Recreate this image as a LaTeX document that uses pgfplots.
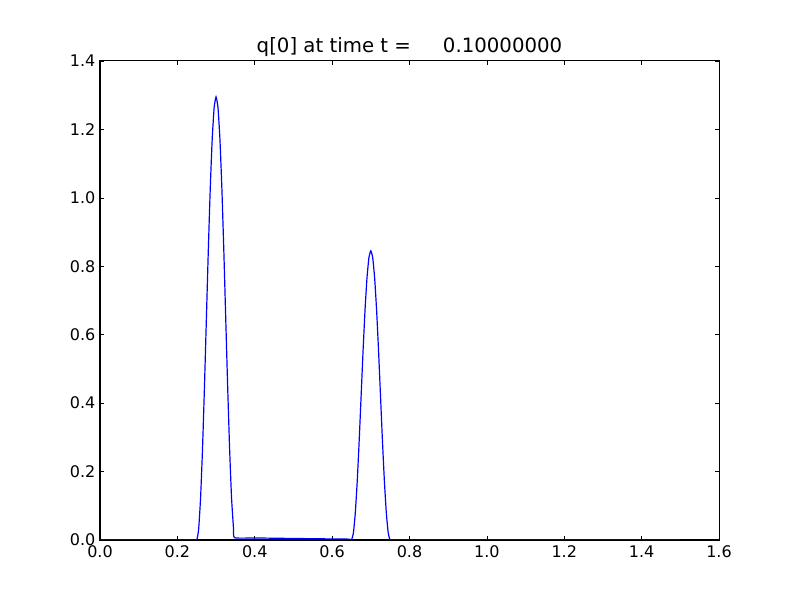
\documentclass[border=0pt]{standalone}
\usepackage{fontspec}
\setmainfont{DejaVu Sans}
\usepackage{pgfplots}
\pgfplotsset{compat=1.18}
\begin{document}
\begin{tikzpicture}
\path[use as bounding box] (-75pt,-45pt) rectangle (525pt,405pt);
\begin{axis}[
  at={(0,0)}, anchor=south west,
  scale only axis, width=464.25pt, height=359.25pt,
  xmin=0, xmax=1.6, ymin=0, ymax=1.4,
  xtick={0,0.2,...,1.6}, ytick={0,0.2,...,1.4},
  tick align=inside, tick pos=both,
  major tick length=3pt,
  every tick/.style={black, line width=0.5pt},
  axis line style={line width=0.75pt},
  tick label style={font=\fontsize{12}{14}\selectfont},
  xticklabel style={yshift=-0.5pt},
  yticklabel style={xshift=0pt},
  /pgf/number format/.cd, fixed, fixed zerofill, precision=1, assume math mode=true,
  /pgfplots/.cd,
  title={q[0] at time t =\hspace{24pt}0.10000000},
  title style={font=\fontsize{14.8}{17}\selectfont, at={(0.5,1)}, anchor=base, yshift=0pt, inner sep=0pt},
]
\addplot[color={rgb,1:red,0;green,0;blue,1}, line width=0.9pt, smooth, tension=0.3] coordinates {
(0,0) (0.24,0) (0.25,0) (0.255,0.0317) (0.26,0.1237) (0.265,0.2669) (0.27,0.4474)
(0.275,0.6475) (0.28,0.8476) (0.285,1.0281) (0.29,1.1713) (0.295,1.2633)
(0.30,1.295) (0.305,1.2633) (0.31,1.1713) (0.315,1.0281) (0.32,0.8476)
(0.325,0.6475) (0.33,0.4474) (0.335,0.2669) (0.34,0.1237) (0.345,0.0350)
(0.348,0.0067) (0.40,0.006) (0.45,0.0052) (0.50,0.0045) (0.55,0.0038) (0.60,0.0031) (0.645,0.0025)
(0.65,0) (0.655,0.0207) (0.66,0.0807) (0.665,0.1742) (0.67,0.2919) (0.675,0.4225)
(0.68,0.5531) (0.685,0.6708) (0.69,0.7643) (0.695,0.8243) (0.70,0.845)
(0.705,0.8243) (0.71,0.7643) (0.715,0.6708) (0.72,0.5531) (0.725,0.4225)
(0.73,0.2919) (0.735,0.1742) (0.74,0.0807) (0.745,0.0207) (0.75,0) (0.76,0) (1.0,0) (1.5,0)
};
\end{axis}
\end{tikzpicture}
\end{document}
